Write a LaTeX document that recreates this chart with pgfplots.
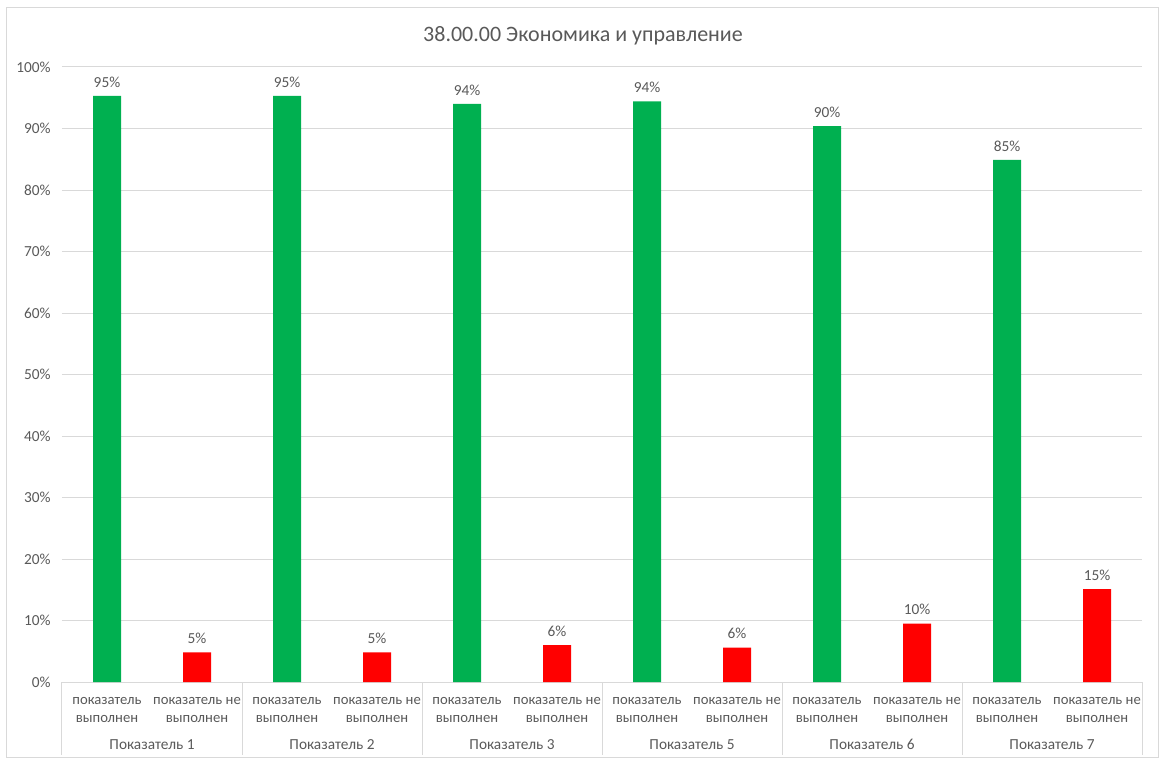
\documentclass[border=0pt]{standalone}
\usepackage{pgfplots}
\pgfplotsset{compat=1.18}
\usepackage{fontspec}
\setmainfont{Carlito}
\definecolor{txt}{HTML}{595959}
\definecolor{grd}{HTML}{D9D9D9}
\definecolor{gr}{HTML}{00B050}
\definecolor{rd}{HTML}{FF0000}
\begin{document}
\begin{tikzpicture}
\useasboundingbox (0pt,0pt) rectangle (871.5pt,568.5pt);
\draw[grd, line width=0.75pt] (4.875pt,0.75pt) rectangle (868.875pt,562.5pt);
\node[txt, font=\fontsize{16.5}{18}\selectfont] at (437.25pt,541.5pt) {38.00.00 Экономика и управление};
\begin{axis}[
  at={(46.5pt,57pt)}, anchor=south west,
  scale only axis, width=810pt, height=461.25pt,
  xmin=-0.5, xmax=11.5, ymin=0, ymax=100,
  ytick={0,10,...,100},
  yticklabel={\pgfmathprintnumber{\tick}\%},
  ymajorgrids, grid style={grd, line width=0.75pt},
  axis x line*=bottom, axis y line*=left,
  x axis line style={grd, line width=0.75pt, -},
  y axis line style={draw=none},
  xtick={0,...,11}, major tick length=0pt,
  xticklabels={{показатель\\выполнен},{показатель не\\выполнен},{показатель\\выполнен},{показатель не\\выполнен},{показатель\\выполнен},{показатель не\\выполнен},{показатель\\выполнен},{показатель не\\выполнен},{показатель\\выполнен},{показатель не\\выполнен},{показатель\\выполнен},{показатель не\\выполнен}},
  xticklabel style={align=center, font=\fontsize{11}{13.5}\selectfont, text=txt, yshift=-8pt},
  yticklabel style={font=\fontsize{11.5}{13}\selectfont, text=txt, xshift=-5pt},
  /pgf/number format/assume math mode=true,
  clip=false,
  nodes near coords={\pgfmathprintnumber[fixed,precision=0]{\pgfplotspointmeta}\%},
  nodes near coords style={font=\fontsize{11.5}{13}\selectfont, text=txt, yshift=3pt},
  ybar, bar width=21pt,
]
\addplot[fill=gr, draw=none, bar shift=0pt] coordinates {(0,95.3) (2,95.3) (4,94.0) (6,94.4) (8,90.4) (10,84.9)};
\addplot[fill=rd, draw=none, bar shift=0pt] coordinates {(1,4.8) (3,4.8) (5,6.0) (7,5.6) (9,9.5) (11,15.1)};
\pgfplotsinvokeforeach{-0.5,1.5,3.5,5.5,7.5,9.5,11.5}{
  \draw[grd, line width=0.75pt] (axis cs:#1,0) -- ++(0pt,-55pt);
}
\node[txt, font=\fontsize{11.5}{13}\selectfont, yshift=-47pt] at (axis cs:0.5,0) {Показатель 1};
\node[txt, font=\fontsize{11.5}{13}\selectfont, yshift=-47pt] at (axis cs:2.5,0) {Показатель 2};
\node[txt, font=\fontsize{11.5}{13}\selectfont, yshift=-47pt] at (axis cs:4.5,0) {Показатель 3};
\node[txt, font=\fontsize{11.5}{13}\selectfont, yshift=-47pt] at (axis cs:6.5,0) {Показатель 5};
\node[txt, font=\fontsize{11.5}{13}\selectfont, yshift=-47pt] at (axis cs:8.5,0) {Показатель 6};
\node[txt, font=\fontsize{11.5}{13}\selectfont, yshift=-47pt] at (axis cs:10.5,0) {Показатель 7};
\end{axis}
\end{tikzpicture}
\end{document}
